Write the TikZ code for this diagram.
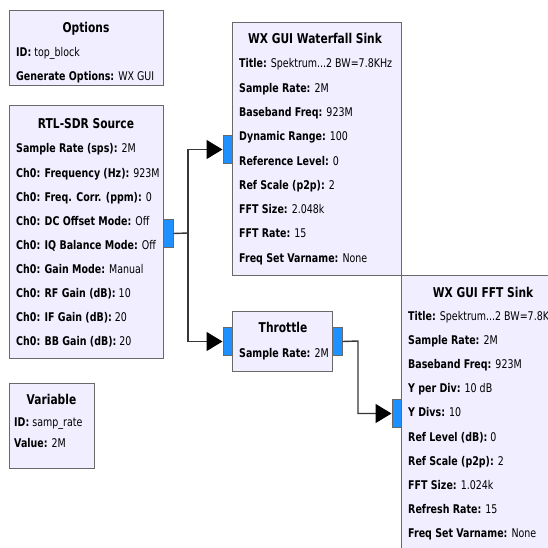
\documentclass[tikz,border=0pt]{standalone}
\usepackage{fontspec}
\setmainfont{DejaVu Sans}[FakeStretch=0.79]
\usetikzlibrary{arrows.meta}
\definecolor{blockfill}{RGB}{241,238,255}
\definecolor{blockline}{RGB}{105,105,105}
\definecolor{portblue}{RGB}{30,144,255}
\definecolor{wire}{RGB}{55,55,55}
\newcommand\pl[2]{\textbf{#1:} #2}
\newcommand\tdots{...}
\tikzset{
  blockbox/.style={draw=blockline, fill=blockfill, line width=1.4pt, anchor=north west, inner sep=0pt},
  portbox/.style={draw=blockline, fill=portblue, line width=1pt, anchor=north west, inner sep=0pt, minimum width=9.5pt, minimum height=28pt},
  titletext/.style={font=\fontsize{13.5}{16}\selectfont\bfseries, anchor=base, inner sep=0pt},
  ptext/.style={font=\fontsize{12}{14}\selectfont, anchor=base west, inner sep=0pt},
  wireline/.style={draw=wire, line width=1.4pt},
  arrowwire/.style={wireline, -{Triangle[length=16pt,width=19pt,black]}},
}
\newcommand\plines[5]{%
  \foreach \t [count=\i from 0] in {#5} {
    \node[ptext] (#1\i) at (#2, #3+#4*\i) {\t};
  }%
}
\begin{document}
\begin{tikzpicture}[x=1pt,y=-1pt]
\path[use as bounding box] (0,0) rectangle (548,548);
\clip (0,0) rectangle (548,548);
\fill[white] (0,0) rectangle (548,548);

% Options
\node[blockbox, minimum width=154pt, minimum height=75pt] (opt) at (9,10) {};
\node[titletext] (optt) at (86,32.5) {Options};
\plines{optl}{16}{57}{23.5}{{\pl{ID}{top\_block}},{\pl{Generate Options}{WX GUI}}}

% RTL-SDR Source
\node[blockbox, minimum width=154pt, minimum height=253pt] (rtl) at (9,105) {};
\node[titletext] (rtlt) at (86,128.5) {RTL-SDR Source};
\plines{rtll}{16}{153}{24.1}{{\pl{Sample Rate (sps)}{2M}},{\pl{Ch0: Frequency (Hz)}{923M}},{\pl{Ch0: Freq. Corr. (ppm)}{0}},{\pl{Ch0: DC Offset Mode}{Off}},{\pl{Ch0: IQ Balance Mode}{Off}},{\pl{Ch0: Gain Mode}{Manual}},{\pl{Ch0: RF Gain (dB)}{10}},{\pl{Ch0: IF Gain (dB)}{20}},{\pl{Ch0: BB Gain (dB)}{20}}}
\node[portbox] (rtlout) at (163,219) {};

% Variable
\node[blockbox, minimum width=85pt, minimum height=85pt] (var) at (9,383) {};
\node[titletext] (vart) at (51.5,404.5) {Variable};
\plines{varl}{14}{426}{21.5}{{\pl{ID}{samp\_rate}},{\pl{Value}{2M}}}

% WX GUI Waterfall Sink
\node[blockbox, minimum width=169pt, minimum height=253pt] (wf) at (232,22) {};
\node[titletext] (wft) at (315,43.5) {WX GUI Waterfall Sink};
\plines{wfl}{239}{68}{24.25}{{\pl{Title}{Spektrum\tdots2 BW=7.8KHz}},{\pl{Sample Rate}{2M}},{\pl{Baseband Freq}{923M}},{\pl{Dynamic Range}{100}},{\pl{Reference Level}{0}},{\pl{Ref Scale (p2p)}{2}},{\pl{FFT Size}{2.048k}},{\pl{FFT Rate}{15}},{\pl{Freq Set Varname}{None}}}
\node[portbox] (wfin) at (222.5,135) {};

% Throttle
\node[blockbox, minimum width=100pt, minimum height=60pt] (thr) at (232,311) {};
\node[titletext] (thrt) at (283,332.5) {Throttle};
\node[ptext] (thrl) at (239,357) {\pl{Sample Rate}{2M}};
\node[portbox] (thrin) at (222.5,327) {};
\node[portbox] (throut) at (332,327) {};

% WX GUI FFT Sink
\node[blockbox, minimum width=164pt, minimum height=290pt] (fft) at (401,275) {};
\node[titletext] (fftt) at (483,297.5) {WX GUI FFT Sink};
\plines{fftl}{408}{320}{24.2}{{\pl{Title}{Spektrum\tdots2 BW=7.8KHz}},{\pl{Sample Rate}{2M}},{\pl{Baseband Freq}{923M}},{\pl{Y per Div}{10 dB}},{\pl{Y Divs}{10}},{\pl{Ref Level (dB)}{0}},{\pl{Ref Scale (p2p)}{2}},{\pl{FFT Size}{1.024k}},{\pl{Refresh Rate}{15}},{\pl{Freq Set Varname}{None}}}
\node[portbox] (fftin) at (391.5,399) {};

% connectors
\coordinate (split) at (188,233);
\coordinate (bend) at (358,341);
\draw[wireline] (rtlout.east) -- (split);
\draw[arrowwire] (split) |- (wfin.west);
\draw[arrowwire] (split) |- (thrin.west);
\draw[arrowwire] (throut.east) -- (bend) |- (fftin.west);
\end{tikzpicture}
\end{document}
